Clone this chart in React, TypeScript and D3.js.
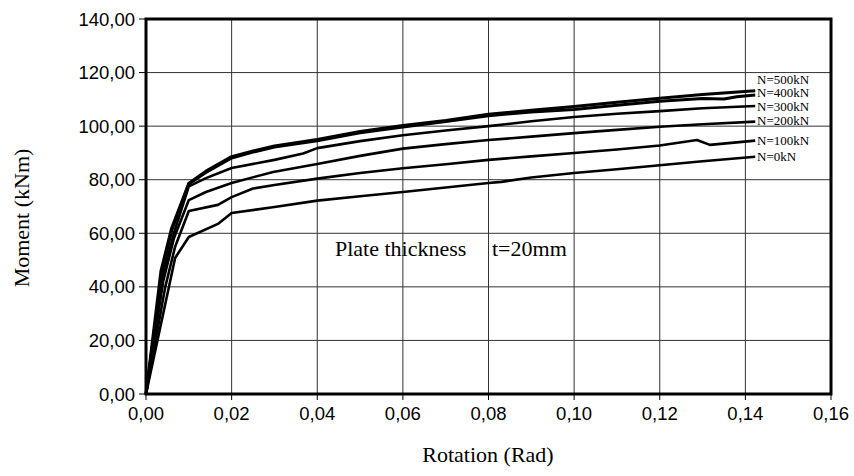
import React from "react";
import * as d3 from "d3";

const xTicks = [0, 0.02, 0.04, 0.06, 0.08, 0.1, 0.12, 0.14, 0.16];
const yTicks = [0, 20, 40, 60, 80, 100, 120, 140];

const rot500 = [0, 0.0035, 0.006, 0.01, 0.014, 0.02, 0.025, 0.03, 0.04, 0.05, 0.06, 0.07, 0.08, 0.09, 0.1, 0.11, 0.12, 0.13, 0.1423];
const mom500 = [0, 46, 62, 78.7, 83.2, 88.6, 90.7, 92.6, 95.0, 98.0, 100.2, 102.1, 104.4, 105.9, 107.3, 108.9, 110.4, 111.8, 113.2];

const rot400 = [0, 0.0037, 0.006, 0.01, 0.014, 0.02, 0.025, 0.03, 0.04, 0.05, 0.06, 0.07, 0.08, 0.09, 0.1, 0.11, 0.12, 0.13, 0.135, 0.138, 0.1423];
const mom400 = [0, 45, 61, 78.4, 82.7, 88.1, 90.3, 92.2, 94.5, 97.5, 99.7, 101.7, 103.9, 105.3, 106.2, 107.8, 109.3, 110.3, 110.1, 111.0, 111.6];

const rot300 = [0, 0.004, 0.0065, 0.01, 0.014, 0.02, 0.03, 0.0367, 0.04, 0.05, 0.06, 0.07, 0.08, 0.09, 0.1, 0.11, 0.12, 0.13, 0.1423];
const mom300 = [0, 44, 60, 77.5, 80.6, 84.4, 87.4, 89.8, 91.8, 94.4, 96.6, 98.4, 100.0, 101.8, 103.4, 104.6, 105.6, 106.7, 107.5];

const rot200 = [0, 0.004, 0.0065, 0.01, 0.014, 0.02, 0.0297, 0.04, 0.05, 0.06, 0.07, 0.08, 0.09, 0.1, 0.11, 0.12, 0.13, 0.1423];
const mom200 = [0, 42, 58, 72.4, 75.4, 78.8, 82.9, 85.9, 88.9, 91.6, 93.3, 94.8, 96.1, 97.4, 98.6, 99.8, 100.7, 101.7];

const rot100 = [0, 0.0045, 0.0068, 0.01, 0.0168, 0.02, 0.025, 0.03, 0.04, 0.05, 0.06, 0.07, 0.08, 0.09, 0.1, 0.11, 0.12, 0.1287, 0.1317, 0.1423];
const mom100 = [0, 40, 55, 68.3, 70.6, 73.5, 76.7, 78.0, 80.4, 82.5, 84.3, 85.8, 87.4, 88.7, 90.0, 91.3, 92.8, 94.8, 93.0, 94.6];

const rot0 = [0, 0.0068, 0.01, 0.0168, 0.02, 0.03, 0.04, 0.05, 0.06, 0.07, 0.08, 0.083, 0.09, 0.1, 0.11, 0.12, 0.13, 0.1423];
const mom0 = [0, 50.8, 58.6, 63.5, 67.6, 69.8, 72.2, 73.8, 75.4, 77.1, 78.8, 79.2, 80.8, 82.5, 83.9, 85.4, 86.9, 88.6];

const seriesNames = ["N=500kN", "N=400kN", "N=300kN", "N=200kN", "N=100kN", "N=0kN"];
const seriesRot = [rot500, rot400, rot300, rot200, rot100, rot0];
const seriesMom = [mom500, mom400, mom300, mom200, mom100, mom0];
const labelMoments = [117.6, 112.4, 107.2, 102.0, 94.8, 88.5];

const fmt = (v: number, d: number) => v.toFixed(d).replace(".", ",");

export default function App() {
  const x = d3.scaleLinear().domain([0, 0.16]).range([146, 831]);
  const y = d3.scaleLinear().domain([0, 140]).range([394, 19]);
  const line = d3
    .line<[number, number]>()
    .x((d) => x(d[0]))
    .y((d) => y(d[1]));

  const serif = "'Liberation Serif', 'Times New Roman', serif";
  const sans = "'Liberation Sans', Arial, sans-serif";

  return (
    <svg
      width={854}
      height={476}
      style={{ position: "absolute", left: 0, top: 0, background: "#fff" }}
    >
      <rect x={0} y={0} width={854} height={476} fill="#fff" />
      {/* grid */}
      {xTicks.slice(1, -1).map((t) => (
        <line key={"gx" + t} x1={x(t)} x2={x(t)} y1={y(0)} y2={y(140)} stroke="#333" strokeWidth={1} />
      ))}
      {yTicks.slice(1, -1).map((t) => (
        <line key={"gy" + t} x1={x(0)} x2={x(0.16)} y1={y(t)} y2={y(t)} stroke="#333" strokeWidth={1} />
      ))}
      {/* ticks */}
      {xTicks.map((t) => (
        <line key={"tx" + t} x1={x(t)} x2={x(t)} y1={y(0)} y2={y(0) + 6} stroke="#000" strokeWidth={1} />
      ))}
      {yTicks.map((t) => (
        <line key={"ty" + t} x1={x(0) - 7} x2={x(0)} y1={y(t)} y2={y(t)} stroke="#000" strokeWidth={1} />
      ))}
      {/* tick labels */}
      {xTicks.map((t) => (
        <text key={"lx" + t} x={x(t)} y={y(0) + 26} textAnchor="middle" fontFamily={sans} fontSize={18.5} fill="#000">
          {fmt(t, 2)}
        </text>
      ))}
      {yTicks.map((t) => (
        <text key={"ly" + t} x={x(0) - 11} y={y(t) + 6.5} textAnchor="end" fontFamily={sans} fontSize={18.5} fill="#000">
          {fmt(t, 2)}
        </text>
      ))}
      {/* series */}
      {seriesRot.map((r, i) => (
        <path
          key={"s" + i}
          d={line(r.map((v, j) => [v, seriesMom[i][j]] as [number, number])) || ""}
          fill="none"
          stroke="#000"
          strokeWidth={i < 2 ? 3 : 2.6}
          strokeLinejoin="round"
        />
      ))}
      {/* series labels */}
      {seriesNames.map((n, i) => (
        <text key={"n" + i} x={757} y={y(labelMoments[i]) + 4.5} fontFamily={serif} fontSize={13} fill="#000">
          {n}
        </text>
      ))}
      {/* border */}
      <rect x={x(0)} y={y(140)} width={x(0.16) - x(0)} height={y(0) - y(140)} fill="none" stroke="#000" strokeWidth={3} />
      {/* annotation */}
      <text x={335} y={256} fontFamily={serif} fontSize={22} fill="#000">
        Plate thickness
      </text>
      <text x={492} y={256} fontFamily={serif} fontSize={22} fill="#000">
        t=20mm
      </text>
      {/* axis titles */}
      <text x={488} y={462} textAnchor="middle" fontFamily={serif} fontSize={22} fill="#000">
        Rotation (Rad)
      </text>
      <text
        transform={`translate(29, 218) rotate(-90)`}
        textAnchor="middle"
        fontFamily={serif}
        fontSize={22}
        fill="#000"
      >
        Moment (kNm)
      </text>
    </svg>
  );
}
